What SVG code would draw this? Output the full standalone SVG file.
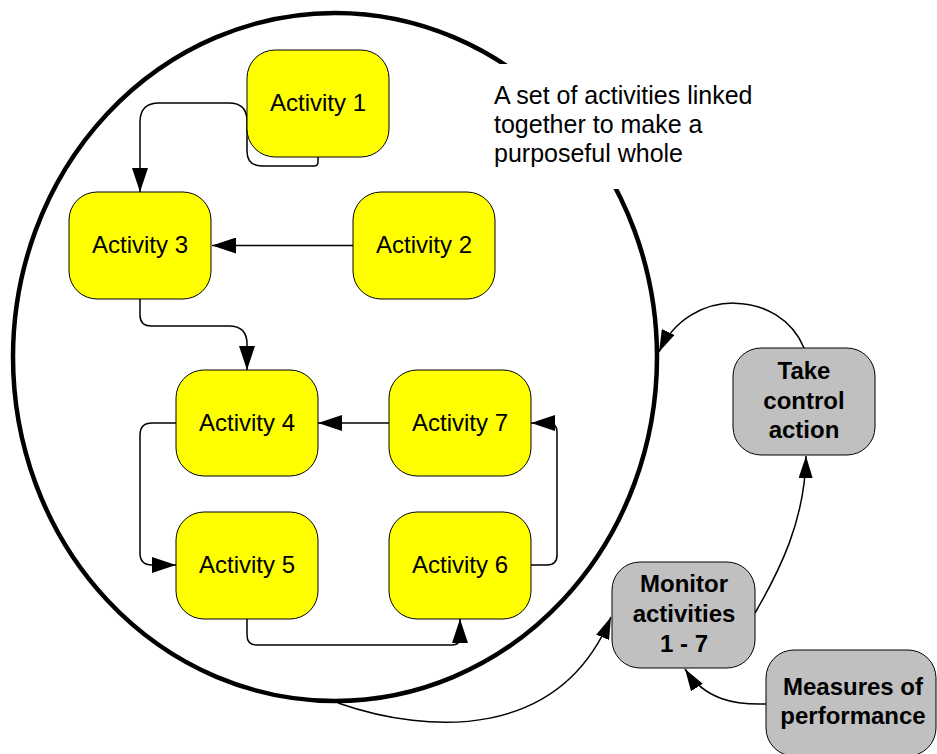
<svg xmlns="http://www.w3.org/2000/svg" width="937" height="754" viewBox="0 0 937 754">
<defs>
<style>
.act{fill:#FFFF00;stroke:#000;stroke-width:1}
.gry{fill:#C0C0C0;stroke:#000;stroke-width:1}
.t{font-family:"Liberation Sans",Arial,sans-serif;font-size:24px;fill:#000;text-anchor:middle}
.b{font-weight:bold}
.c{fill:none;stroke:#000;stroke-width:1.5}
.note{font-family:"Liberation Sans",Arial,sans-serif;font-size:25px;fill:#000}
</style>
<marker id="ah" viewBox="0 0 24 16" refX="24" refY="8" markerWidth="24" markerHeight="16" markerUnits="userSpaceOnUse" orient="auto">
<path d="M0,0 L24,8 L0,16 Z" fill="#000"/>
</marker>
<marker id="ah2" viewBox="0 0 22 14" refX="22" refY="7" markerWidth="22" markerHeight="14" markerUnits="userSpaceOnUse" orient="auto">
<path d="M0,0 L22,7 L0,14 Z" fill="#000"/>
</marker>
</defs>
<rect width="937" height="754" fill="#fff"/>
<g id="system-boundary">
<ellipse cx="335" cy="357" rx="322" ry="344" fill="none" stroke="#000" stroke-width="4.5"/>
<rect x="482" y="64" width="290" height="125" fill="#fff"/>
<text class="note" x="494" y="104">A set of activities linked</text>
<text class="note" x="494" y="133">together to make a</text>
<text class="note" x="494" y="162">purposeful whole</text>
</g>
<g id="connectors">
<path class="c" d="M318,157 L318,162 Q318,166 314,166 L262,166 Q247,166 247,151 L247,121 Q247,103 229,103 L159,103 Q140,103 140,122 L140,192" marker-end="url(#ah)"/>
<path class="c" d="M353,245.5 L212,245.5" marker-end="url(#ah)"/>
<path class="c" d="M140,299 L140,315 Q140,326 151,326 L229,326 Q247,326 247,344 L247,370" marker-end="url(#ah)"/>
<path class="c" d="M389,423 L318,423" marker-end="url(#ah)"/>
<path class="c" d="M176,423 L152,423 Q140,423 140,435 L140,553 Q140,565 152,565 L176,565" marker-end="url(#ah)"/>
<path class="c" d="M531,565 L547,565 Q557,565 557,555 L557,432 Q557,423 548,423 L531,423" marker-end="url(#ah)"/>
<path class="c" d="M247,619 L247,635 Q247,645 257,645 L452,645 Q460,645 460,637 L460,619" marker-end="url(#ah)"/>
<path class="c" d="M338,703 C430,735 560,740 611,617" marker-end="url(#ah2)"/>
<path class="c" d="M766,704 C735,705 705,700 685,669" marker-end="url(#ah2)"/>
<path class="c" d="M755,613 C780,570 805,520 806,456" marker-end="url(#ah2)"/>
<path class="c" d="M804,348 C780,290 690,285 659,352" marker-end="url(#ah2)"/>
</g>
<g id="activity-1"><rect class="act" x="247" y="50" width="142" height="107" rx="28"/><text class="t" x="318" y="111">Activity 1</text></g>
<g id="activity-2"><rect class="act" x="353" y="192" width="142" height="107" rx="28"/><text class="t" x="424" y="253">Activity 2</text></g>
<g id="activity-3"><rect class="act" x="69" y="192" width="142" height="107" rx="28"/><text class="t" x="140" y="253">Activity 3</text></g>
<g id="activity-4"><rect class="act" x="176" y="370" width="142" height="106" rx="28"/><text class="t" x="247" y="431">Activity 4</text></g>
<g id="activity-5"><rect class="act" x="176" y="512" width="142" height="107" rx="28"/><text class="t" x="247" y="573">Activity 5</text></g>
<g id="activity-6"><rect class="act" x="389" y="512" width="142" height="107" rx="28"/><text class="t" x="460" y="573">Activity 6</text></g>
<g id="activity-7"><rect class="act" x="389" y="370" width="142" height="106" rx="28"/><text class="t" x="460" y="431">Activity 7</text></g>
<g id="take-control-action"><rect class="gry" x="733" y="348" width="142" height="107" rx="28"/>
<text class="t b" x="804" y="379">Take</text><text class="t b" x="804" y="409">control</text><text class="t b" x="804" y="438">action</text></g>
<g id="monitor-activities"><rect class="gry" x="612" y="562" width="143" height="106" rx="28"/>
<text class="t b" x="684" y="592">Monitor</text><text class="t b" x="684" y="622">activities</text><text class="t b" x="684" y="652">1 - 7</text></g>
<g id="measures-of-performance"><rect class="gry" x="766" y="650" width="170" height="106" rx="28"/>
<text class="t b" x="853" y="695">Measures of</text><text class="t b" x="853" y="724">performance</text></g>
</svg>
